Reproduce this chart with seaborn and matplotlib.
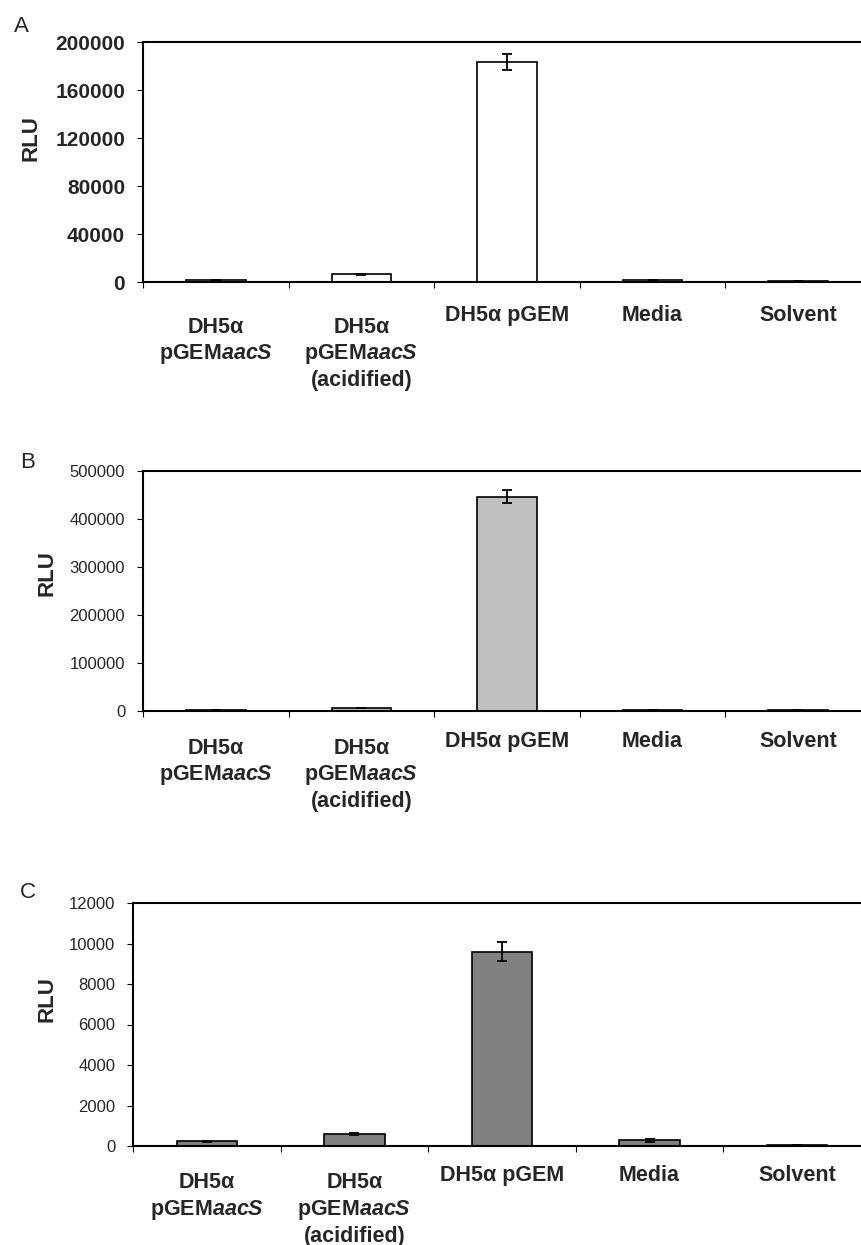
import numpy as np
import matplotlib
matplotlib.use('Agg')
import matplotlib.pyplot as plt
import seaborn as sns

sns.set_style('white')
plt.rcParams['font.family'] = ['Liberation Sans', 'DejaVu Sans']
plt.rcParams['mathtext.fontset'] = 'custom'
plt.rcParams['mathtext.it'] = 'Liberation Sans:italic:bold'
plt.rcParams['mathtext.rm'] = 'Liberation Sans:bold'
plt.rcParams['mathtext.bf'] = 'Liberation Sans:bold'

# data
categories = ['DH5a pGEMaacS', 'DH5a pGEMaacS acid', 'DH5a pGEM', 'Media', 'Solvent']
cat_labels = ['DH5\u03b1\npGEM$\\mathit{aacS}$',
              'DH5\u03b1\npGEM$\\mathit{aacS}$\n(acidified)',
              'DH5\u03b1 pGEM', 'Media', 'Solvent']

rlu_a = [1500, 6500, 183300, 1500, 500]
err_a = [150, 300, 6300, 150, 50]
rlu_b = [2000, 6000, 446000, 2000, 1500]
err_b = [200, 400, 13500, 200, 100]
rlu_c = [230, 590, 9600, 280, 60]
err_c = [40, 30, 450, 60, 10]

yticks_a = [0, 40000, 80000, 120000, 160000, 200000]
yticks_b = [0, 100000, 200000, 300000, 400000, 500000]
yticks_c = [0, 2000, 4000, 6000, 8000, 10000, 12000]

W, H = 861, 1245
fig = plt.figure(figsize=(W / 100, H / 100), dpi=100)

panels = [
    # letter, values, errors, colour, ticks, left/top/bottom px, tick font, bold ticks,
    # letter pos, ylabel pos, label offsets (single line, multi line) in points
    ('A', rlu_a, err_a, 'white', yticks_a, 143, 42, 282, 15, True, (21, 27), (31, 138), (16.5, 25)),
    ('B', rlu_b, err_b, '#c0c0c0', yticks_b, 143, 471, 711, 12, False, (28, 462), (47, 573), (14.4, 19.4)),
    ('C', rlu_c, err_c, '#808080', yticks_c, 133, 903, 1146, 12, False, (28, 893), (47, 999), (13.7, 19)),
]

for letter, vals, errs, col, ticks, left, top, bottom, tfs, tbold, lpos, ypos, offs in panels:
    ax = fig.add_axes([left / W, 1 - bottom / H, (871 - left) / W, (bottom - top) / H])
    sns.barplot(x=categories, y=vals, color=col, width=0.41, edgecolor='black',
                linewidth=1.2, errorbar=None, saturation=1, ax=ax)
    ax.errorbar(np.arange(len(vals)), vals, yerr=errs, fmt='none', ecolor='black',
                elinewidth=1.3, capsize=3.4, capthick=1.3)
    ax.set_xlim(-0.5, len(vals) - 0.5)
    ax.set_ylim(ticks[0], ticks[-1])
    ax.set_yticks(ticks)
    ax.set_yticklabels([str(t) for t in ticks], fontsize=tfs,
                       fontweight='bold' if tbold else 'normal')
    ax.set_xticks(np.arange(-0.5, len(vals), 1))
    ax.set_xticklabels([])
    ax.tick_params(axis='both', direction='out', length=4.3, width=0.8, color='black',
                   left=True, bottom=True, pad=8.5)
    for s in ['top', 'left', 'bottom']:
        ax.spines[s].set_visible(True)
        ax.spines[s].set_color('black')
        ax.spines[s].set_linewidth(1.5)
    ax.spines['right'].set_visible(False)
    ax.set_xlabel('')
    ax.set_ylabel('RLU', fontsize=16, fontweight='bold', va='center')
    ax.yaxis.set_label_coords(ypos[0] / W, 1 - ypos[1] / H, transform=fig.transFigure)

    for i, lab in enumerate(cat_labels):
        off = offs[0] if '\n' not in lab else offs[1]
        ax.annotate(lab, xy=(i, 0), xycoords=('data', 'axes fraction'),
                    xytext=(0, -off), textcoords='offset points', ha='center', va='top',
                    fontsize=15.5, fontweight='bold', linespacing=1.25)

    fig.text(lpos[0] / W, 1 - lpos[1] / H, letter, fontsize=16, ha='center', va='center')

fig.savefig('out.png', dpi=100)
